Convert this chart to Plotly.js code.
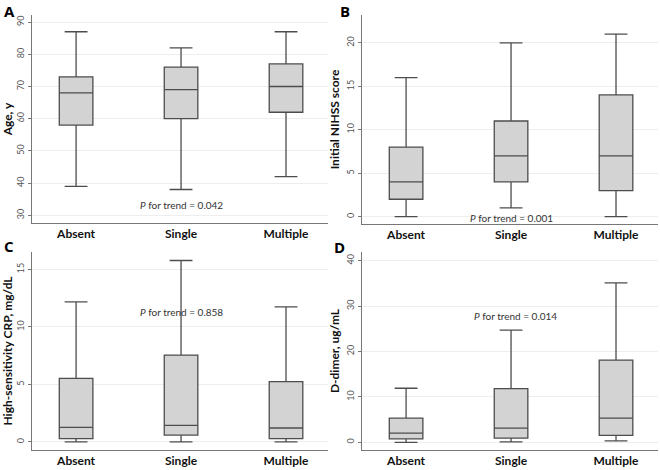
<!DOCTYPE html>
<html>
<head>
<meta charset="utf-8">
<script src="https://cdn.plot.ly/plotly-3.0.1.min.js"></script>
<style>
html,body{margin:0;padding:0;background:#fff;}
#chart{width:660px;height:470px;}
</style>
</head>
<body>
<div id="chart"></div>
<script>
const categories = ['Absent', 'Single', 'Multiple'];

// Panel A: Age, y
const ageLow = [39, 38, 42];
const ageQ1 = [58, 60, 62];
const ageMed = [68, 69, 70];
const ageQ3 = [73, 76, 77];
const ageHigh = [87, 82, 87];

// Panel B: Initial NIHSS score
const nihssLow = [0, 1, 0];
const nihssQ1 = [2, 4, 3];
const nihssMed = [4, 7, 7];
const nihssQ3 = [8, 11, 14];
const nihssHigh = [16, 20, 21];

// Panel C: High-sensitivity CRP, mg/dL
const crpLow = [0, 0, 0];
const crpQ1 = [0.29, 0.6, 0.29];
const crpMed = [1.27, 1.44, 1.21];
const crpQ3 = [5.53, 7.55, 5.24];
const crpHigh = [12.16, 15.76, 11.73];

// Panel D: D-dimer, ug/mL
const ddLow = [0, 0.1, 0.3];
const ddQ1 = [0.74, 0.9, 1.5];
const ddMed = [2.0, 3.1, 5.3];
const ddQ3 = [5.3, 11.8, 18.1];
const ddHigh = [11.9, 24.7, 35.1];

const pLabels = ['0.042', '0.001', '0.858', '0.014'];
const yTitles = ['Age, y', 'Initial NIHSS score', 'High-sensitivity CRP, mg/dL', 'D-dimer, ug/mL'];
const panelLetters = ['A', 'B', 'C', 'D'];

const FONT = 'Lato, "Open Sans", sans-serif';
const lineCol = '#4d4d4d';

function boxTrace(lo, q1, med, q3, hi, xa, ya) {
  return {
    type: 'box',
    x: categories,
    lowerfence: lo, q1: q1, median: med, q3: q3, upperfence: hi,
    xaxis: xa, yaxis: ya,
    fillcolor: '#d3d3d3',
    line: {color: lineCol, width: 1.3},
    width: 0.32,
    whiskerwidth: 0.68,
    showlegend: false,
    hoverinfo: 'skip'
  };
}

const data = [
  boxTrace(ageLow, ageQ1, ageMed, ageQ3, ageHigh, 'x', 'y'),
  boxTrace(nihssLow, nihssQ1, nihssMed, nihssQ3, nihssHigh, 'x2', 'y2'),
  boxTrace(crpLow, crpQ1, crpMed, crpQ3, crpHigh, 'x3', 'y3'),
  boxTrace(ddLow, ddQ1, ddMed, ddQ3, ddHigh, 'x4', 'y4')
];

function xax(dom, anchor) {
  return {
    domain: dom, anchor: anchor,
    type: 'category',
    range: [-0.42, 2.4],
    showline: true, linecolor: '#777', linewidth: 1,
    ticks: '', showgrid: false, zeroline: false,
    tickfont: {family: FONT, size: 12, color: '#111', weight: 'bold'},
    fixedrange: true
  };
}
function yax(dom, anchor, range, dtick, title) {
  return {
    domain: dom, anchor: anchor,
    range: range, dtick: dtick, tick0: 0,
    showline: true, linecolor: '#777', linewidth: 1,
    ticks: 'outside', ticklen: 3, tickcolor: '#777',
    tickangle: -90,
    tickfont: {family: FONT, size: 9, color: '#555'},
    showgrid: true, gridcolor: '#eeeeee', gridwidth: 1,
    zeroline: false,
    title: {text: '<b>' + title + '</b>', font: {family: FONT, size: 12, color: '#111'}, standoff: 3},
    fixedrange: true
  };
}

const xL = [32/660, 328/660];
const xR = [362/660, 658/660];
const yTopA = [(470-223)/470, (470-15)/470];
const yTopB = [(470-224)/470, (470-15)/470];
const yBot = [(470-450)/470, (470-252)/470];

function pNote(xa, ya, x, y, p) {
  return {xref: xa, yref: ya, x: x, y: y, xanchor: 'center', yanchor: 'middle',
    text: '<i>P</i> for trend = ' + p, showarrow: false,
    font: {family: FONT, size: 10, color: '#333'}};
}
function letter(x, y, t, anchorTop) {
  return {xref: 'paper', yref: 'paper', x: x/660, y: anchorTop ? 1 : (470-y)/470,
    xanchor: 'center', yanchor: anchorTop ? 'top' : 'middle',
    borderpad: 0,
    text: '<b>' + t + '</b>', showarrow: false,
    font: {family: 'Open Sans, sans-serif', size: 15, color: '#000'}};
}

const layout = {
  width: 660, height: 470,
  margin: {l: 0, r: 0, t: 0, b: 0},
  paper_bgcolor: '#fff', plot_bgcolor: '#fff',
  font: {family: FONT},
  xaxis: xax(xL, 'y'),
  yaxis: yax(yTopA, 'x', [27.6, 92.2], 10, yTitles[0]),
  xaxis2: xax(xR, 'y2'),
  yaxis2: yax(yTopB, 'x2', [-0.85, 23.2], 5, yTitles[1]),
  xaxis3: xax(xL, 'y3'),
  yaxis3: yax(yBot, 'x3', [-0.7, 16.5], 5, yTitles[2]),
  xaxis4: xax(xR, 'y4'),
  yaxis4: yax(yBot, 'x4', [-1.7, 41.9], 10, yTitles[3]),
  annotations: [
    pNote('x', 'y', 1, 33.1, pLabels[0]),
    pNote('x2', 'y2', 1, -0.2, pLabels[1]),
    pNote('x3', 'y3', 1, 11.27, pLabels[2]),
    pNote('x4', 'y4', 1.04, 27.8, pLabels[3]),
    letter(9, 0, panelLetters[0], true),
    letter(345, 0, panelLetters[1], true),
    letter(9, 246, panelLetters[2], false),
    letter(339, 247, panelLetters[3], false)
  ]
};

Plotly.newPlot('chart', data, layout, {displayModeBar: false, staticPlot: true});
</script>
</body>
</html>
